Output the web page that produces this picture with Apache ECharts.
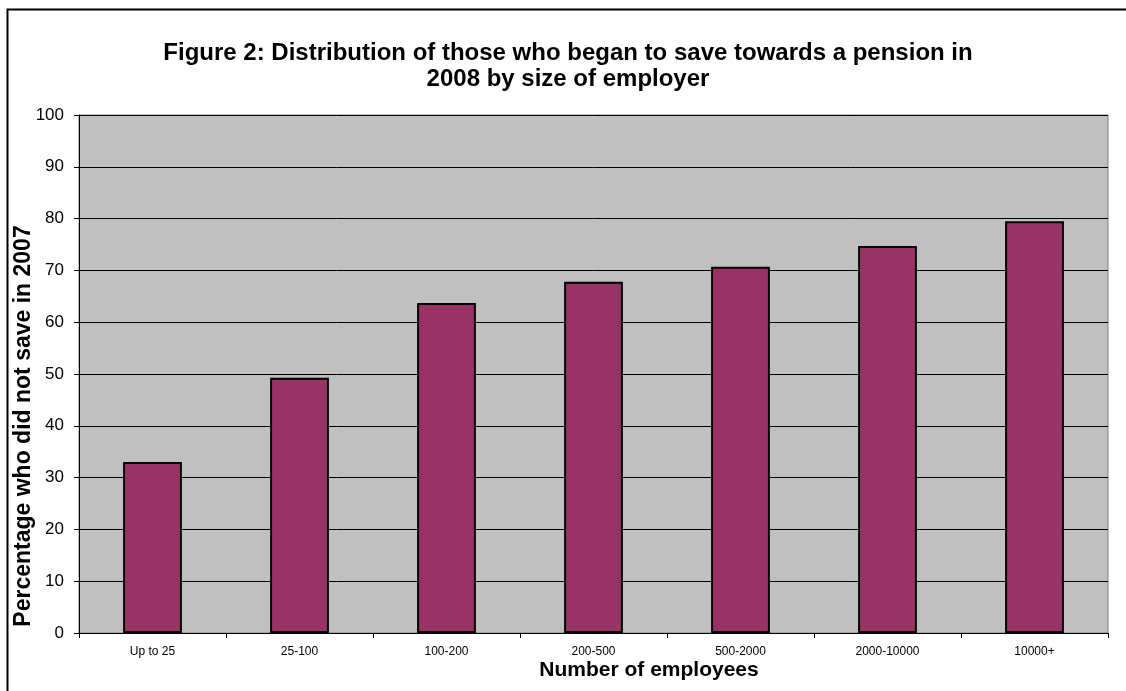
<!DOCTYPE html>
<html>
<head>
<meta charset="utf-8">
<script src="https://cdn.jsdelivr.net/npm/echarts@6/dist/echarts.min.js"></script>
<style>
  html, body { margin: 0; padding: 0; background: #fff; }
  #chart { width: 1126px; height: 691px; }
</style>
</head>
<body>
<div id="chart"></div>
<script>
const categories = ['Up to 25', '25-100', '100-200', '200-500', '500-2000', '2000-10000', '10000+'];
const values = [33.0, 49.3, 63.7, 67.8, 70.7, 74.7, 79.5];
const yTitle = 'Percentage who did not save in 2007';
const xTitle = 'Number of employees';

const font = 'Liberation Sans, Arial, sans-serif';
const chart = echarts.init(document.getElementById('chart'));
chart.setOption({
  animation: false,
  textStyle: { fontFamily: font },
  title: {
    text: 'Figure 2: Distribution of those who began to save towards a pension in\n2008 by size of employer',
    left: 563,
    top: 35,
    textAlign: 'center',
    textStyle: { fontSize: 24, fontWeight: 'bold', color: '#000', lineHeight: 26 },
  },
  graphic: [
    {
      type: 'rect',
      shape: { x: 7.5, y: 9.5, width: 1200, height: 800 },
      style: { fill: 'none', stroke: '#000', lineWidth: 2 },
      silent: true,
    },
    {
      type: 'text',
      x: 24,
      y: 426,
      rotation: Math.PI / 2,
      style: {
        text: yTitle,
        font: 'bold 23px ' + font,
        fill: '#000',
        align: 'center',
        verticalAlign: 'middle',
      },
      silent: true,
    },
    {
      type: 'text',
      x: 649,
      y: 670,
      style: {
        text: xTitle,
        font: 'bold 21px ' + font,
        fill: '#000',
        align: 'center',
        verticalAlign: 'middle',
      },
      silent: true,
    },
  ],
  grid: {
    left: 79,
    top: 115,
    right: 18,
    bottom: 58,
    show: true,
    backgroundColor: '#c0c0c0',
    borderColor: '#808080',
    borderWidth: 1,
  },
  xAxis: {
    type: 'category',
    data: categories,
    axisLine: { lineStyle: { color: '#000' } },
    axisTick: { show: true, length: 5, lineStyle: { color: '#000' } },
    axisLabel: { fontSize: 12, color: '#000', margin: 13 },
  },
  yAxis: {
    type: 'value',
    min: 0,
    max: 100,
    interval: 10,
    axisLine: { show: true, lineStyle: { color: '#000' } },
    axisTick: { show: true, length: 5, lineStyle: { color: '#000' } },
    axisLabel: { fontSize: 17, color: '#000', margin: 15 },
    splitLine: { show: true, lineStyle: { color: '#000', width: 1 } },
  },
  series: [
    {
      type: 'bar',
      data: values,
      barWidth: '40%',
      itemStyle: { color: '#993366', borderColor: '#000', borderWidth: 2 },
    },
  ],
});
</script>
</body>
</html>
